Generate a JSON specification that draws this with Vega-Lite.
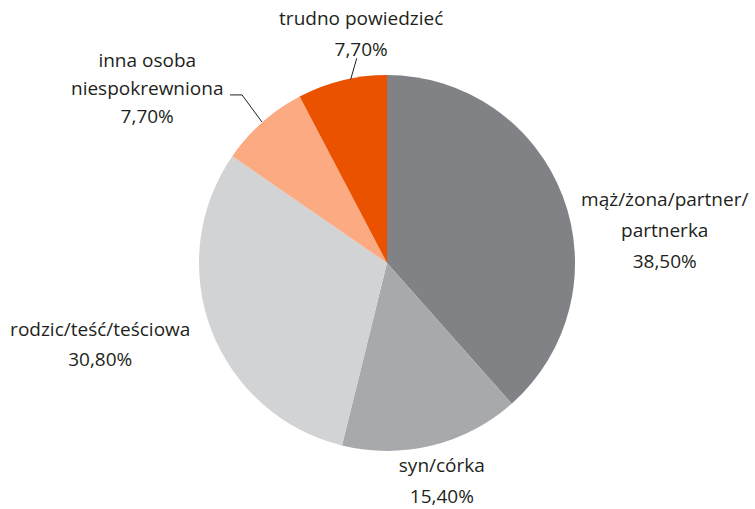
{
  "$schema": "https://vega.github.io/schema/vega-lite/v6.json",
  "width": 736,
  "height": 492,
  "autosize": {"type": "none"},
  "padding": {"left": 19, "top": 17, "right": 0, "bottom": 0},
  "background": "white",
  "config": {
    "view": {"stroke": null},
    "text": {"font": "Open Sans", "fontSize": 19, "fill": "#231f20"}
  },
  "datasets": {
    "shares": [
      {"cat": "mąż/żona/partner/partnerka", "label": "mąż/żona/partner/|partnerka|38,50%", "value": 38.5, "order": 1},
      {"cat": "syn/córka", "label": "syn/córka|15,40%", "value": 15.4, "order": 2},
      {"cat": "rodzic/teść/teściowa", "label": "rodzic/teść/teściowa|30,80%", "value": 30.8, "order": 3},
      {"cat": "inna osoba niespokrewniona", "label": "inna osoba|niespokrewniona|7,70%", "value": 7.7, "order": 4},
      {"cat": "trudno powiedzieć", "label": "trudno powiedzieć|7,70%", "value": 7.7, "order": 5}
    ],
    "leaders": [
      {"id": "t", "step": 1, "x": -0.193, "y": 0.977},
      {"id": "t", "step": 2, "x": -0.161, "y": 1.089},
      {"id": "i", "step": 1, "x": -0.835, "y": 0.894},
      {"id": "i", "step": 2, "x": -0.771, "y": 0.894},
      {"id": "i", "step": 3, "x": -0.665, "y": 0.75}
    ]
  },
  "layer": [
    {
      "data": {"name": "shares"},
      "mark": {"type": "arc", "outerRadius": 188},
      "encoding": {
        "theta": {"field": "value", "type": "quantitative", "stack": true},
        "order": {"field": "order", "type": "quantitative", "sort": "ascending"},
        "color": {
          "field": "cat", "type": "nominal",
          "scale": {
            "domain": ["mąż/żona/partner/partnerka", "syn/córka", "rodzic/teść/teściowa", "inna osoba niespokrewniona", "trudno powiedzieć"],
            "range": ["#808285", "#a7a9ac", "#d1d3d4", "#fcaa82", "#eb5200"]
          },
          "legend": null
        }
      }
    },
    {
      "data": {"name": "leaders"},
      "mark": {"type": "line", "stroke": "#231f20", "strokeWidth": 1},
      "encoding": {
        "x": {"field": "x", "type": "quantitative", "scale": {"domain": [-1.9574, 1.9574], "nice": false, "zero": false}, "axis": null},
        "y": {"field": "y", "type": "quantitative", "scale": {"domain": [-1.3085, 1.3085], "nice": false, "zero": false}, "axis": null},
        "detail": {"field": "id", "type": "nominal"},
        "order": {"field": "step", "type": "quantitative"}
      }
    },
    {
      "data": {"name": "shares"},
      "mark": {"type": "text", "radius": 250, "dx": 44, "dy": 26, "lineBreak": "|", "lineHeight": 31, "align": "center", "baseline": "middle"},
      "encoding": {
        "theta": {"field": "value", "type": "quantitative", "stack": true},
        "order": {"field": "order", "type": "quantitative", "sort": "ascending"},
        "text": {"condition": {"test": "datum.order == 1", "field": "label", "type": "nominal"}, "value": ""}
      }
    },
    {
      "data": {"name": "shares"},
      "mark": {"type": "text", "radius": 250, "dx": -5, "dy": -40, "lineBreak": "|", "lineHeight": 31, "align": "center", "baseline": "middle"},
      "encoding": {
        "theta": {"field": "value", "type": "quantitative", "stack": true},
        "order": {"field": "order", "type": "quantitative", "sort": "ascending"},
        "text": {"condition": {"test": "datum.order == 2", "field": "label", "type": "nominal"}, "value": ""}
      }
    },
    {
      "data": {"name": "shares"},
      "mark": {"type": "text", "radius": 250, "dx": -53, "dy": -22, "lineBreak": "|", "lineHeight": 30, "align": "center", "baseline": "middle"},
      "encoding": {
        "theta": {"field": "value", "type": "quantitative", "stack": true},
        "order": {"field": "order", "type": "quantitative", "sort": "ascending"},
        "text": {"condition": {"test": "datum.order == 3", "field": "label", "type": "nominal"}, "value": ""}
      }
    },
    {
      "data": {"name": "shares"},
      "mark": {"type": "text", "radius": 250, "dx": -74, "dy": -15, "lineBreak": "|", "lineHeight": 28, "align": "center", "baseline": "middle"},
      "encoding": {
        "theta": {"field": "value", "type": "quantitative", "stack": true},
        "order": {"field": "order", "type": "quantitative", "sort": "ascending"},
        "text": {"condition": {"test": "datum.order == 4", "field": "label", "type": "nominal"}, "value": ""}
      }
    },
    {
      "data": {"name": "shares"},
      "mark": {"type": "text", "radius": 250, "dx": 34, "dy": -1, "lineBreak": "|", "lineHeight": 31, "align": "center", "baseline": "middle"},
      "encoding": {
        "theta": {"field": "value", "type": "quantitative", "stack": true},
        "order": {"field": "order", "type": "quantitative", "sort": "ascending"},
        "text": {"condition": {"test": "datum.order == 5", "field": "label", "type": "nominal"}, "value": ""}
      }
    }
  ]
}
